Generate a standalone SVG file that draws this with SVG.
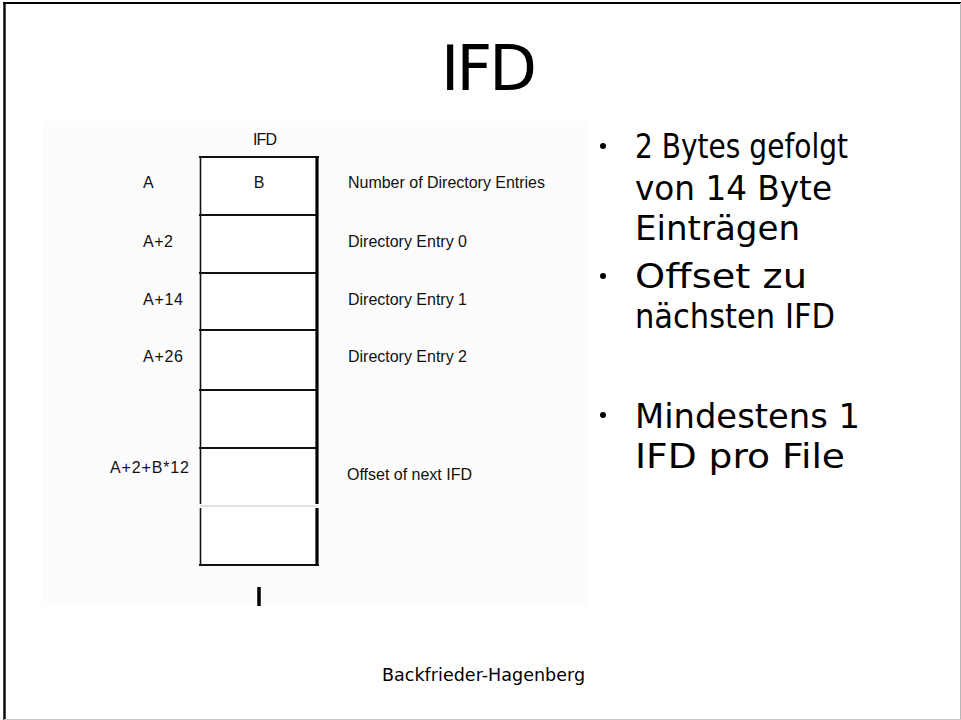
<svg xmlns="http://www.w3.org/2000/svg" width="961" height="720" viewBox="0 0 961 720">
<style>
.lbl{font-family:"Liberation Sans",Arial,sans-serif;font-size:16px;fill:#111}
.cs{font-family:"DejaVu Sans",sans-serif;fill:#000}
.blt{font-size:33px}
.cell{fill:#fff;stroke:none}
.h{stroke:#111;stroke-width:2.2}
.v{stroke:#111;stroke-width:1.6}
.vr{stroke:#000;stroke-width:3.2}
.dot{fill:#000}
</style>
<rect x="0" y="0" width="961" height="720" fill="#fff"/>
<g id="frame">
<line x1="4.5" y1="2" x2="4.5" y2="720" stroke="#000" stroke-width="2.4"/>
<line x1="3" y1="3" x2="961" y2="3" stroke="#000" stroke-width="2"/>
<line x1="960.5" y1="3" x2="960.5" y2="720" stroke="#b8b8b8" stroke-width="1"/>
<line x1="4" y1="719.5" x2="961" y2="719.5" stroke="#c8c8c8" stroke-width="1"/>
</g>
<g id="title"><text class="cs" x="489" y="90" font-size="62" text-anchor="middle" textLength="96">IFD</text></g>
<g id="panel">
<rect x="42" y="121" width="545" height="485" fill="#fcfcfc"/>
</g>
<g id="ifd-table">
<rect class="cell" x="200" y="157" width="117" height="408"/>
<text class="lbl" x="265" y="145" text-anchor="middle" textLength="24">IFD</text>
<line class="h" x1="199" y1="157" x2="319" y2="157"/>
<line class="h" x1="199" y1="215" x2="318" y2="215"/>
<line class="h" x1="199" y1="273" x2="318" y2="273"/>
<line class="h" x1="199" y1="330" x2="318" y2="330"/>
<line class="h" x1="199" y1="390" x2="318" y2="390"/>
<line class="h" x1="199" y1="448" x2="318" y2="448"/>
<line x1="200" y1="506" x2="318" y2="506" stroke="#e2e2e2" stroke-width="2.2"/>
<line class="h" x1="199" y1="565" x2="319" y2="565"/>
<line class="v" x1="200.5" y1="157" x2="200.5" y2="504"/>
<line class="v" x1="200.5" y1="508" x2="200.5" y2="565"/>
<line class="vr" x1="317" y1="156" x2="317" y2="504"/>
<line class="vr" x1="317" y1="508" x2="317" y2="566"/>
<line x1="259" y1="587" x2="259" y2="606" stroke="#000" stroke-width="3.5"/>
</g>
<g id="row-0">
<text class="lbl" x="143" y="188">A</text>
<text class="lbl" x="259" y="188" text-anchor="middle">B</text>
<text class="lbl" x="348" y="188" textLength="197">Number of Directory Entries</text>
</g>
<g id="row-1">
<text class="lbl" x="143" y="247" textLength="30">A+2</text>
<text class="lbl" x="348" y="247" textLength="119">Directory Entry 0</text>
</g>
<g id="row-2">
<text class="lbl" x="143" y="305" textLength="40">A+14</text>
<text class="lbl" x="348" y="305" textLength="119">Directory Entry 1</text>
</g>
<g id="row-3">
<text class="lbl" x="143" y="362" textLength="40">A+26</text>
<text class="lbl" x="348" y="362" textLength="119">Directory Entry 2</text>
</g>
<g id="row-5">
<text class="lbl" x="110" y="473" textLength="79">A+2+B*12</text>
<text class="lbl" x="347" y="480" textLength="125">Offset of next IFD</text>
</g>
<g id="bullets">
<circle class="dot" cx="603" cy="146" r="3"/>
<text class="cs blt" x="635" y="158" textLength="213" lengthAdjust="spacingAndGlyphs">2 Bytes gefolgt</text>
<text class="cs blt" x="635" y="200" textLength="197" lengthAdjust="spacingAndGlyphs">von 14 Byte</text>
<text class="cs blt" x="635" y="240" textLength="165" lengthAdjust="spacingAndGlyphs">Einträgen</text>
<circle class="dot" cx="603" cy="276" r="3"/>
<text class="cs blt" x="635" y="288" textLength="172" lengthAdjust="spacingAndGlyphs">Offset zu</text>
<text class="cs blt" x="635" y="328" textLength="200" lengthAdjust="spacingAndGlyphs">nächsten IFD</text>
<circle class="dot" cx="603" cy="415" r="3"/>
<text class="cs blt" x="635" y="428" textLength="225" lengthAdjust="spacingAndGlyphs">Mindestens 1</text>
<text class="cs blt" x="635" y="468" textLength="210" lengthAdjust="spacingAndGlyphs">IFD pro File</text>
</g>
<g id="footer"><text class="cs" x="382" y="681" font-size="17.5" textLength="203">Backfrieder-Hagenberg</text></g>
</svg>
